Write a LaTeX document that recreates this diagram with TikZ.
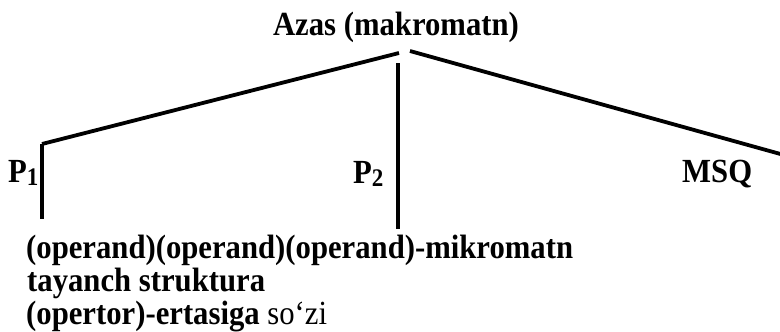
\documentclass[tikz,border=0pt]{standalone}
\usepackage{fontspec}
\usepackage{graphicx}
\setmainfont{Liberation Serif}
\tikzset{
  lbl/.style={inner sep=0pt, anchor=base west, font=\fontsize{30.7}{33}\selectfont\bfseries},
  branch/.style={line width=3.8pt, line cap=butt, line join=miter},
  stem/.style={line width=3.2pt},
}
% slightly tall lettering
\newcommand{\tall}[1]{\scalebox{1}[1.1]{#1}}
\newcommand{\sbscr}[1]{\raisebox{-3pt}{\fontsize{23}{23}\selectfont #1}}
\begin{document}
\begin{tikzpicture}[x=1pt,y=-1pt]
  \useasboundingbox (0,0) rectangle (780,332);
  % root label
  \node[lbl, anchor=base] (root) at (396,35) {\tall{Azas (makromatn)}};
  % branch points
  \coordinate (lt) at (399,53);
  \coordinate (rt) at (410,51);
  \coordinate (mt) at (398,63);
  \coordinate (p1c) at (42,144);
  \coordinate (p1b) at (42,219);
  \coordinate (p2b) at (398,229);
  \coordinate (re) at (784,155);
  % branches
  \draw[branch] (lt) -- (p1c);
  \draw[stem] (p1c) -- (p1b);
  \draw[stem] (mt) -- (p2b);
  \draw[branch] (rt) -- (re);
  % branch labels
  \node[lbl] (p1) at (8,182) {\tall{P\sbscr{1}}};
  \node[lbl] (p2) at (353,183) {\tall{P\sbscr{2}}};
  \node[lbl] (msq) at (682,182) {\tall{MSQ}};
  % text below
  \node[lbl] (l1) at (26,258) {\tall{(operand)(operand)(operand)-mikromatn}};
  \node[lbl] (l2) at (27,291) {\tall{tayanch struktura}};
  \node[lbl] (l3) at (26,324) {\tall{(opertor)-ertasiga \mdseries so‘zi}};
\end{tikzpicture}
\end{document}
